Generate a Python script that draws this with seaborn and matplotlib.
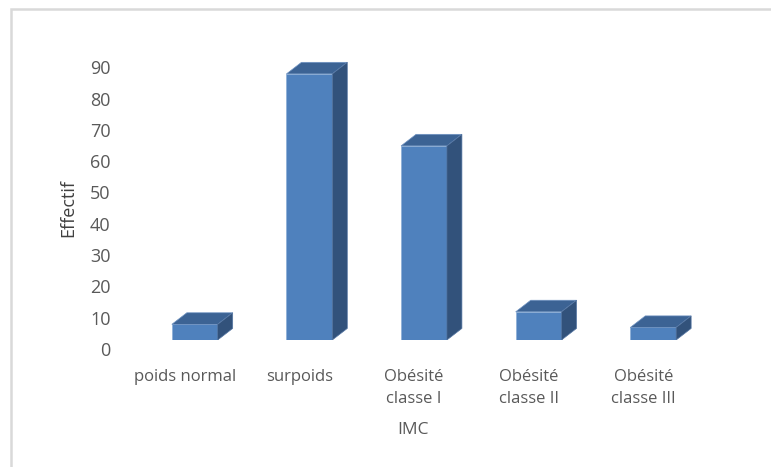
import matplotlib
matplotlib.use("Agg")
import matplotlib.pyplot as plt
import matplotlib.transforms as mtransforms
from matplotlib.patches import Polygon, Rectangle
import seaborn as sns
import pandas as pd

# Data
categories = ["poids normal", "surpoids", "Obésité\nclasse I", "Obésité\nclasse II", "Obésité\nclasse III"]
effectif = [5, 85, 62, 9, 4]
y_ticks = [0, 10, 20, 30, 40, 50, 60, 70, 80, 90]

df = pd.DataFrame({"IMC": categories, "Effectif": effectif})

sns.set_style("white")
plt.rcParams["font.family"] = ["Open Sans", "DejaVu Sans"]

front = "#4F81BD"
top_c = "#3C6394"
side_c = "#32527B"
text_c = "#595959"

fig = plt.figure(figsize=(7.71, 4.67), dpi=100)
ax = fig.add_axes([116 / 771, 127 / 467, 596 / 771, 297.4 / 467])

sns.barplot(data=df, x="IMC", y="Effectif", width=0.4, color=front,
            saturation=1, edgecolor="#8FB0D8", linewidth=0.6, ax=ax)

# fake 3D: shift front faces a bit and add top/side faces
shift = 0.087
dx = 0.131
dy = 3.7
for p in ax.patches:
    p.set_x(p.get_x() + shift)
    x0 = p.get_x()
    x1 = x0 + p.get_width()
    v = p.get_height()
    ax.add_patch(Polygon([(x0, v), (x1, v), (x1 + dx, v + dy), (x0 + dx, v + dy)],
                         closed=True, facecolor=top_c, edgecolor="#6F93C2", linewidth=0.5))
    ax.add_patch(Polygon([(x1, 0), (x1 + dx, dy), (x1 + dx, v + dy), (x1, v)],
                         closed=True, facecolor=side_c, edgecolor="#5576A3", linewidth=0.5))

ax.set_xlim(-0.6, 4.6)
ax.set_ylim(0, 95)
ax.set_yticks(y_ticks)
sns.despine(ax=ax, left=True, bottom=True)
ax.tick_params(axis="both", length=0, labelcolor=text_c)
ax.tick_params(axis="y", pad=4, labelsize=13)
ax.tick_params(axis="x", pad=21, labelsize=12)
for lab in ax.get_xticklabels():
    lab.set_linespacing(1.45)

# y labels sit a little below the front base in the original
off = mtransforms.ScaledTranslation(0, -9 / 100, fig.dpi_scale_trans)
for lab in ax.get_yticklabels():
    lab.set_transform(lab.get_transform() + off)

ax.set_xlabel("IMC", color=text_c, fontsize=12.5, va="center")
ax.xaxis.set_label_coords(0.498, -0.303)
ax.set_ylabel("Effectif", color="#404040", fontsize=13, va="center")
ax.yaxis.set_label_coords(-0.0805, 0.444)

# light frame of the chart area
fig.add_artist(Rectangle((10.5 / 771, -0.1), 1.2, 1.1 - 9 / 467,
                         transform=fig.transFigure, facecolor="none",
                         edgecolor="#D9D9D9", linewidth=1.8))

fig.savefig("out.png", dpi=100)
